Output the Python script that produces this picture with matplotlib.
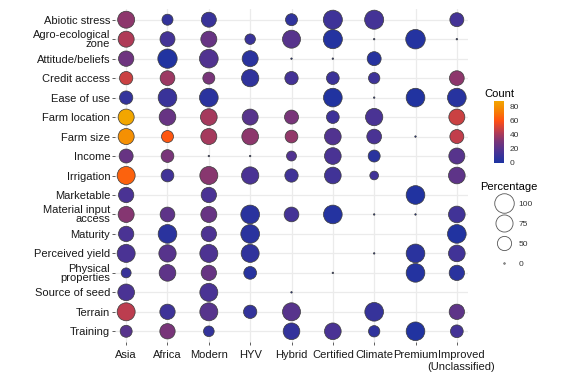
import numpy as np
import matplotlib
matplotlib.use("Agg")
import matplotlib.pyplot as plt
import matplotlib.transforms as mtransforms
from matplotlib.colors import LinearSegmentedColormap, Normalize
from matplotlib.lines import Line2D

plt.rcParams['font.family'] = ['Liberation Sans', 'DejaVu Sans']

# columns (regions / seed types)
groups = ['Asia', 'Africa', 'Modern', 'HYV', 'Hybrid', 'Certified', 'Climate',
          'Premium', 'Improved\n(Unclassified)']

# rows (adoption factors), top to bottom
factors = ['Abiotic stress', 'Agro-ecological\nzone', 'Attitude/beliefs',
           'Credit access', 'Ease of use', 'Farm location', 'Farm size',
           'Income', 'Irrigation', 'Marketable', 'Material input\naccess',
           'Maturity', 'Perceived yield', 'Physical\nproperties',
           'Source of seed', 'Terrain', 'Training']

N = None
# percentage of studies (point size), None = no point
pct = [
    [74, 28, 56, N, 34, 95, 95, N, 48],
    [65, 56, 65, 25, 84, 95, 0, 100, 0],
    [59, 98, 91, 65, 0, 0, 48, N, N],
    [43, 54, 34, 77, 43, 39, 30, N, 54],
    [43, 91, 91, N, N, 91, 0, 91, 91],
    [65, 71, 71, 65, 48, 39, 77, N, 65],
    [65, 34, 65, 71, 39, 71, 54, 0, 48],
    [48, 39, 0, 0, 22, 71, 34, N, 65],
    [84, 39, 84, 77, 43, 71, 16, N, 71],
    [59, N, 59, N, N, N, N, 91, N],
    [65, 54, 65, 91, 54, 91, 0, 0, 71],
    [59, 91, 59, 91, N, N, N, N, 91],
    [84, 77, 84, 84, N, N, 0, 91, 71],
    [22, 71, 59, 39, N, 0, N, 91, 59],
    [71, N, 84, N, 0, N, N, N, N],
    [84, 59, 84, 43, 84, N, 91, N, 59],
    [34, 59, 26, N, 71, 71, 30, 91, 39],
]

# number of studies (point colour)
cnt = [
    [35, 8, 10, N, 7, 12, 14, N, 14],
    [42, 14, 25, 10, 20, 3, 0, 3, 0],
    [27, 2, 18, 5, 0, 0, 4, N, N],
    [48, 38, 30, 7, 14, 11, 12, N, 35],
    [8, 10, 5, N, N, 2, 0, 2, 4],
    [88, 25, 40, 20, 30, 12, 16, N, 48],
    [80, 62, 40, 35, 36, 18, 16, 0, 46],
    [25, 30, 0, 0, 18, 16, 5, N, 20],
    [65, 13, 34, 16, 13, 13, 13, N, 22],
    [16, N, 16, N, N, N, N, 2, N],
    [33, 22, 25, 5, 14, 3, 0, 0, 13],
    [16, 5, 17, 5, N, N, N, N, 2],
    [16, 20, 17, 7, N, N, 0, 5, 13],
    [10, 22, 25, 4, N, 0, N, 3, 5],
    [16, N, 16, N, 0, N, N, N, N],
    [45, 12, 20, 8, 20, N, 9, N, 22],
    [20, 30, 8, N, 8, 16, 7, 2, 14],
]

legend_pct = [100, 75, 50, 0]
cbar_ticks = [0, 20, 40, 60, 80]

cmap = LinearSegmentedColormap.from_list('cnt', [
    (0.0, '#1c33a2'), (0.18, '#4a3394'), (0.35, '#7a3578'),
    (0.50, '#b83c52'), (0.68, '#ff4f14'), (0.82, '#f77a05'), (1.0, '#f2a600')])
norm = Normalize(0, 88)


def size_pt(p):
    # ggplot-like area scale: diameter in px -> points
    d_px = 1.5 + 18.0 * np.sqrt(np.asarray(p, float) / 100.0)
    return d_px * 72 / 100


xs, ys, ps, cs = [], [], [], []
for i in range(len(factors)):
    for j in range(len(groups)):
        if pct[i][j] is None:
            continue
        xs.append(j)
        ys.append(i)
        ps.append(pct[i][j])
        cs.append(cnt[i][j])

fig = plt.figure(figsize=(5.73, 3.77), dpi=100)
ax = fig.add_axes([115 / 573, 1 - 342 / 377, 353 / 573, 333 / 377])

sc = ax.scatter(xs, ys, s=size_pt(ps) ** 2, c=cs, cmap=cmap, norm=norm,
                edgecolors='#3a3a3a', linewidths=0.5, zorder=3)

# x labels: first line as tick label, any second line drawn just below it
first_lines = [g.split('\n')[0] for g in groups]
ax.set_xticks(range(len(groups)))
ax.set_xticklabels(first_lines, fontsize=8, color='#1a1a1a')
ax.set_yticks(range(len(factors)))
ax.set_yticklabels(factors, fontsize=8, color='#1a1a1a', linespacing=0.85,
                   multialignment='right')
ax.set_xlim(-0.27, len(groups) - 1 + 0.27)
ax.set_ylim(len(factors) - 1 + 0.55, -0.55)
ax.tick_params(length=2, width=0.6, color='#444444', pad=1.5)
ax.tick_params(axis='x', pad=3.5)
ax.grid(True, color='#ebebeb', linewidth=0.9, zorder=0)
ax.set_axisbelow(True)
for sp in ax.spines.values():
    sp.set_visible(False)

shift = mtransforms.ScaledTranslation(4 / 100, 0, fig.dpi_scale_trans)
last = ax.get_xticklabels()[-1]
last.set_transform(last.get_transform() + shift)
for j, g in enumerate(groups):
    if '\n' in g:
        ax.annotate(g.split('\n')[1], xy=(j, 0),
                    xycoords=ax.get_xaxis_transform(),
                    xytext=(3, -(5.5 + 8.8)), textcoords='offset points',
                    ha='center', va='top', fontsize=8, color='#1a1a1a',
                    annotation_clip=False)

# colour bar
cax = fig.add_axes([494 / 573, 1 - 163 / 377, 10 / 573, 62 / 377])
cb = fig.colorbar(sc, cax=cax, ticks=cbar_ticks)
cb.outline.set_visible(False)
cax.tick_params(labelsize=6, length=2, color='white', pad=2, labelcolor='#333333')
fig.text(484 / 573, 1 - 94 / 377, 'Count', fontsize=8, va='center', ha='left')

# size legend
fig.text(480 / 573, 1 - 187 / 377, 'Percentage', fontsize=8, va='center',
         ha='left')
handles = [Line2D([], [], marker='o', ls='', ms=size_pt(p), mfc='white',
                  mec='#555555', mew=0.6) for p in legend_pct]
leg = fig.legend(handles, [str(p) for p in legend_pct],
                 loc='upper left', bbox_to_anchor=(494 / 573, 1 - 200 / 377),
                 frameon=False, fontsize=6, labelspacing=1.45,
                 handletextpad=0.4, borderpad=0, handlelength=2.5,
                 borderaxespad=0)
for t in leg.get_texts():
    t.set_color('#333333')

fig.savefig('out.png', dpi=100)
